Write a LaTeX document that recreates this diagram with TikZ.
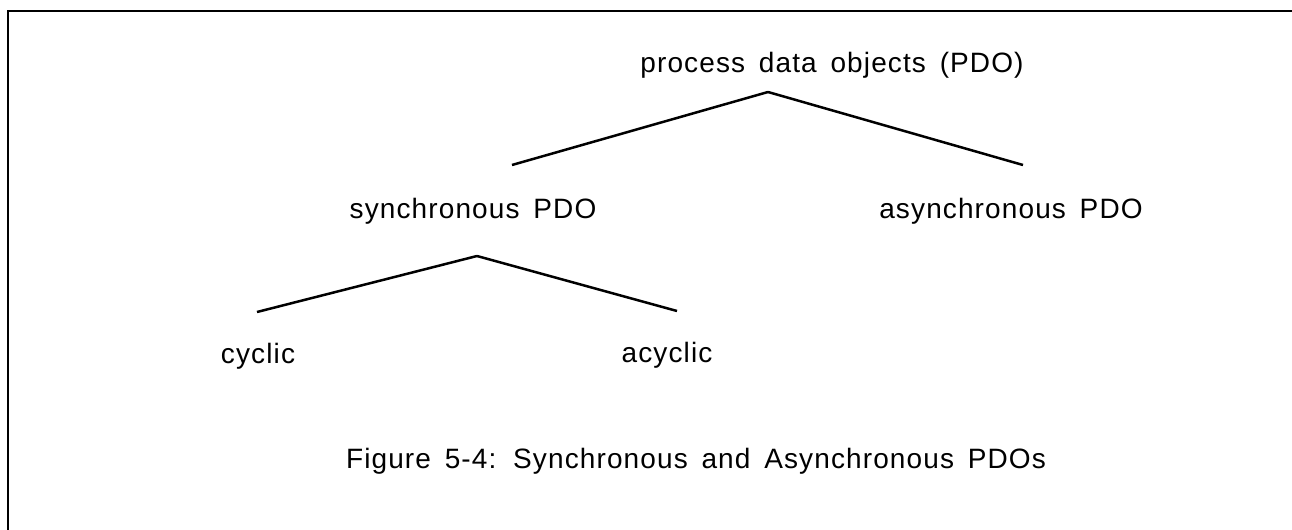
\documentclass[tikz,border=0pt]{standalone}
\usepackage{fontspec}
\setmainfont{Liberation Sans}
\newfontfamily\pdofont[LetterSpace=4,WordSpace=1.55]{Liberation Sans}
\begin{document}
\begin{tikzpicture}[x=0.5pt,y=-0.5pt]
        \useasboundingbox (0,0) rectangle (1292,530);
        % frame, only left and top edges
        \draw[line width=1.1pt] (8,530) -- (8,11) -- (1292,11);
        \begin{scope}[every node/.style={anchor=base,inner sep=0pt,font=\pdofont\fontsize{14}{17}\selectfont}]
            \node (pdo) at (832, 72) {process data objects (PDO)};
            \node (sync) at (473, 218) {synchronous PDO};
            \node (async) at (1011, 218) {asynchronous PDO};
            \node (cyc) at (258, 363) {cyclic};
            \node (acyc) at (667, 362) {acyclic};
            \node (cap) at (696, 468) {Figure 5-4: Synchronous and Asynchronous PDOs};
        \end{scope}
        \coordinate (top1) at (768, 92);
        \coordinate (left1) at (512, 165);
        \coordinate (right1) at (1023, 165);
        \coordinate (top2) at (477, 256);
        \coordinate (left2) at (257, 312);
        \coordinate (right2) at (677, 311);
        \begin{scope}[every edge/.style={draw,line width=1.25pt}]
            \path
                (top1) edge (left1)
                (top1) edge (right1)
                (top2) edge (left2)
                (top2) edge (right2);
        \end{scope}
    \end{tikzpicture}
\end{document}
